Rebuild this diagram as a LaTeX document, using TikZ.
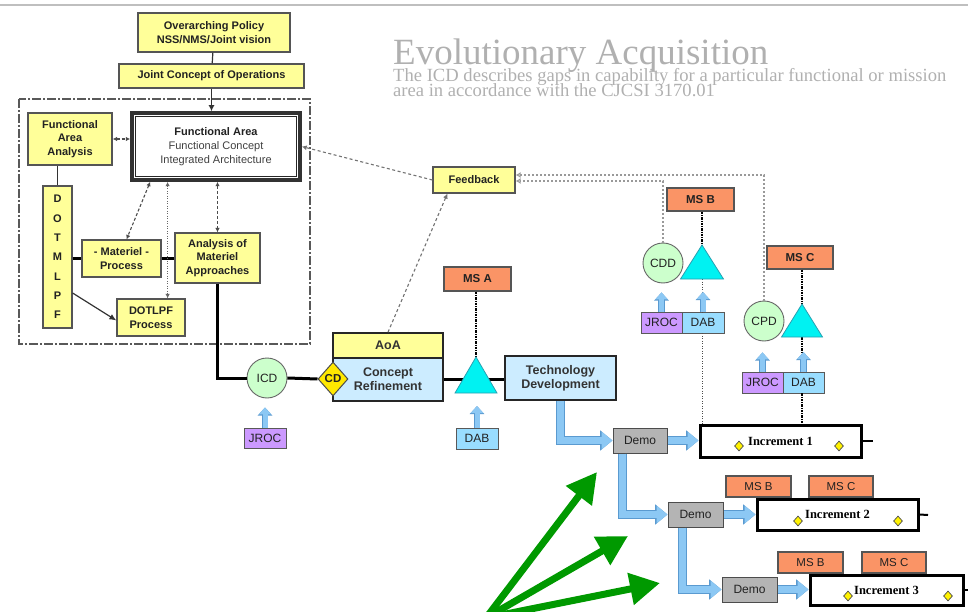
\documentclass[tikz,border=0pt]{standalone}
\usepackage{fontspec}
\setmainfont{Liberation Sans}
\newfontfamily\timesf{Liberation Serif}
\usetikzlibrary{shapes.geometric,arrows.meta,calc}

\definecolor{boxyellow}{HTML}{FFFF99}
\definecolor{msorange}{HTML}{FA9466}
\definecolor{tricyan}{HTML}{00F2F2}
\definecolor{triedge}{HTML}{2A9FB0}
\definecolor{circgreen}{HTML}{CCFFCC}
\definecolor{jrocpurple}{HTML}{CC99FF}
\definecolor{dabblue}{HTML}{99DDFF}
\definecolor{phaseblue}{HTML}{CCECFF}
\definecolor{demogray}{HTML}{B4B4B4}
\definecolor{arrowblue}{HTML}{8CC8F4}
\definecolor{arrowedge}{HTML}{5A9AD0}
\definecolor{titlegray}{HTML}{B0B0B0}
\definecolor{pointgreen}{HTML}{009900}
\definecolor{edgegray}{HTML}{555555}
\definecolor{cdyellow}{HTML}{FFE800}
\definecolor{txtdark}{HTML}{222222}

\newcommand\fsz[1]{\fontsize{#1}{#1}\selectfont}

\tikzset{
  ybox/.style={draw=edgegray, line width=1.2pt, fill=boxyellow, align=center,
    inner sep=0pt, text=txtdark, font=\fontsize{11}{13.5}\selectfont\bfseries},
  fabox/.style={draw=black!80, line width=3.5pt, fill=white, align=center,
    inner sep=0pt, text=black!75, font=\fontsize{11}{14}\selectfont},
  msbox/.style={draw=edgegray, line width=1.1pt, fill=msorange, inner sep=0pt,
    text=txtdark, font=\fsz{11.5}\bfseries},
  phase/.style={draw=black!85, line width=2pt, fill=phaseblue, align=center,
    inner sep=0pt, text=black!80, font=\fontsize{12.5}{14}\selectfont\bfseries},
  circ/.style={circle, draw=gray!80!black, line width=0.9pt, fill=circgreen,
    minimum size=40pt, inner sep=0pt, text=txtdark, font=\fsz{12}},
  jrocbox/.style={draw=gray!70!black, line width=0.9pt, fill=jrocpurple,
    inner sep=0pt, minimum height=21pt, text=txtdark, font=\fsz{12}},
  dabbox/.style={draw=gray!70!black, line width=0.9pt, fill=dabblue,
    inner sep=0pt, minimum height=21pt, text=txtdark, font=\fsz{12}},
  demobox/.style={draw=gray!60!black, line width=1pt, fill=demogray,
    inner sep=0pt, minimum width=55pt, minimum height=25pt, text=txtdark, font=\fsz{12}},
  incbox/.style={draw=black, line width=3pt, fill=white, inner sep=0pt,
    text=black, font=\timesf\bfseries\fsz{12.5}},
  ydia/.style={diamond, draw=gray!60!black, line width=0.7pt, fill=yellow,
    inner sep=0pt, minimum width=9pt, minimum height=10pt},
  tri/.style={draw=triedge, line width=0.8pt, fill=tricyan},
  flow/.style={draw=black, line width=3pt},
  thinline/.style={draw=black!80, line width=1.2pt},
  dbl/.style={draw=black!70, line width=1.1pt, dash pattern=on 3pt off 2pt,
    {Latex[length=4.5pt,width=4.5pt]}-{Latex[length=4.5pt,width=4.5pt]}},
  dotl/.style={draw=black!60, line width=1pt, dash pattern=on 1pt off 1.5pt,
    {Latex[length=4.5pt,width=4.5pt]}-{Latex[length=4.5pt,width=4.5pt]}},
  fbdash/.style={draw=black!55, line width=1.1pt, dash pattern=on 3pt off 2.5pt,
    -{Latex[length=5pt,width=5pt]}},
  fbdot/.style={draw=black!40, line width=1.6pt, dash pattern=on 2pt off 2pt,
    -{Latex[open,length=5pt,width=6pt]}},
  mslink/.style={draw=black, line width=1.6pt, dash pattern=on 2.5pt off 1pt on 1pt off 1pt},
  msdot/.style={draw=black!70, line width=1pt, dash pattern=on 1pt off 1.5pt},
  blk/.style={draw=arrowblue, line width=5pt, -{Triangle[length=7pt,width=12pt]},
    preaction={draw=arrowedge, line width=6.4pt, -{Triangle[length=8.2pt,width=14.4pt]}}},
  bigblk/.style={draw=arrowblue, line width=7pt, line join=miter,
    -{Triangle[length=11pt,width=17pt]},
    preaction={draw=arrowedge, line width=8.4pt, line join=miter,
      -{Triangle[length=12.4pt,width=19.6pt]}}},
  greenarr/.style={draw=pointgreen, line width=7pt, -{Triangle[length=30pt,width=31pt]}},
}

\begin{document}
\begin{tikzpicture}[x=1pt,y=-1pt]
\useasboundingbox (0,0) rectangle (968,612);
\clip (0,0) rectangle (968,612);

% header rule
\draw[black!25, line width=2pt] (0,5) -- (968,5);

% title block
\node[anchor=base west, inner sep=0pt, text=titlegray, font=\timesf\fsz{37}] (title) at (393,65) {Evolutionary Acquisition};
\node[anchor=base west, inner sep=0pt, text=titlegray, font=\timesf\fsz{18.6}] (sub1) at (393,82) {The ICD describes gaps in capability for a particular functional or mission};
\node[anchor=base west, inner sep=0pt, text=titlegray, font=\timesf\fsz{18.6}] (sub2) at (393,96.5) {area in accordance with the CJCSI 3170.01};

% ---------- capability definition cluster ----------
\node[ybox, minimum width=152pt, minimum height=39pt] (ovp) at (214,32.5) {Overarching Policy\\NSS/NMS/Joint vision};
\node[ybox, minimum width=185pt, minimum height=24pt] (jco) at (211.5,76) {Joint Concept of Operations};
\draw[draw=black!65, line width=1.2pt, dash pattern=on 9pt off 2pt on 2pt off 2pt] (19,99) rectangle (310,344);

\node[fabox, minimum width=168pt, minimum height=67pt] (fa) at (216,146.5)
  {\textbf{\color{txtdark}Functional Area}\\Functional Concept\\Integrated Architecture};
\draw[black!85, line width=1.3pt] ($(fa.north west)+(5.5,5.5)$) rectangle ($(fa.south east)+(-5.5,-5.5)$);

\node[ybox, minimum width=84pt, minimum height=52pt] (faa) at (70,139) {Functional\\Area\\Analysis};
\node[ybox, minimum width=29pt, minimum height=142pt, font=\fontsize{11}{19.3}\selectfont\bfseries] (dot) at (57.5,257) {D\\O\\T\\M\\L\\P\\F};
\node[ybox, minimum width=79pt, minimum height=37pt] (mat) at (121.5,258.5) {- Materiel -\\Process};
\node[ybox, minimum width=85pt, minimum height=50pt] (ama) at (217.5,258) {Analysis of\\Materiel\\Approaches};
\node[ybox, minimum width=68pt, minimum height=37pt] (dotlpf) at (151,317.5) {DOTLPF\\Process};

\draw[thinline] (ovp) -- (jco);
\draw[thinline, -{Latex[length=6pt,width=6pt]}] (jco.south) -- (jco.south |- fa.north);
\draw[thinline] (dot.north) -- (dot.north |- faa.south);
\draw[dbl] (faa.east) -- (faa.east -| fa.west);
\draw[flow] (mat.west -| dot.east) -- (mat.west);
\draw[flow] (mat.east) -- (mat.east -| ama.west);
\draw[thinline, -{Latex[length=7pt,width=6pt]}] ($(dot.east)+(0,36)$) -- ($(dotlpf.west)+(0,3)$);
\draw[dbl] ($(fa.south west)+(20,0)$) -- ($(mat.north)+(5,0)$);
\coordinate (dtop) at ($(dotlpf.north east)+(-18,0)$);
\draw[dotl] (dtop |- fa.south) -- (dtop);
\draw[dbl] (ama.north |- fa.south) -- (ama.north);

% ---------- milestone A chain ----------
\node[circ] (icd) at (267,378) {ICD};
\node[phase, minimum width=110pt, minimum height=25pt, fill=boxyellow, line width=1.6pt] (aoa) at (388,345.5) {AoA};
\node[phase, minimum width=110pt, minimum height=43pt, text width=100pt] (cr) at (388,379.5) {Concept\\Refinement};
\node[diamond, draw=black!70, line width=1pt, fill=cdyellow, inner sep=0pt,
  minimum width=30pt, minimum height=34pt, text=txtdark, font=\fsz{11.5}\bfseries] (cd) at (333,379) {CD};
\node[msbox, minimum width=67pt, minimum height=24pt] (msa) at (477.5,279) {MS A};
\node[jrocbox, minimum width=42pt, minimum height=20pt] (jroca) at (265,438) {JROC};
\node[dabbox, minimum width=42pt] (daba) at (477,438.5) {DAB};
\node[phase, minimum width=111pt, minimum height=44pt] (td) at (560.5,378) {Technology\\Development};

\draw[flow] (ama.south) |- (icd.west);
\draw[flow] (icd.east) -- (cd.west);
\draw[flow] (cr.east) -- (cr.east -| td.west);

\coordinate (ta) at (476,357);
\coordinate (tab) at (476,393);
\draw[mslink] (ta |- msa.south) -- (ta);
\draw[tri] (ta) -- (497,393) -- (455,393) -- cycle;

\draw[blk, shorten >=9pt] (jroca.north) -- (jroca.north |- icd.south);
\draw[blk, shorten >=13pt] (daba.north) -- (daba.north |- tab);

% ---------- feedback ----------
\node[ybox, minimum width=82pt, minimum height=26pt] (fb) at (474,180) {Feedback};
\draw[fbdash] (aoa.north) -- ($(fb.south west)+(15,0)$);
\draw[fbdash] (fb.west) -- (fa.east);

% ---------- milestone B ----------
\node[msbox, minimum width=67pt, minimum height=23pt] (msb) at (700.5,199.5) {MS B};
\node[circ] (cdd) at (663,263) {CDD};
\node[jrocbox, minimum width=41pt] (jrocb) at (661.5,322.5) {JROC};
\node[dabbox, minimum width=42pt] (dabb) at (703,322.5) {DAB};
\coordinate (tb) at (702,245);
\coordinate (tbb) at (702,279);
\draw[mslink] (tb |- msb.south) -- (tb);
\draw[msdot] (tbb) -- (tbb |- dabb.north);
\draw[tri] (tb) -- (723.5,279) -- (680.5,279) -- cycle;

% ---------- milestone C ----------
\node[msbox, minimum width=66pt, minimum height=23pt] (msc) at (800,257.5) {MS C};
\node[circ] (cpd) at (764,321) {CPD};
\node[jrocbox, minimum width=41pt] (jrocc) at (762.5,382.5) {JROC};
\node[dabbox, minimum width=41pt] (dabc) at (803.5,382.5) {DAB};
\coordinate (tc) at (802,304);
\coordinate (tcb) at (802,337);
\draw[mslink] (tc |- msc.south) -- (tc);
\draw[mslink] (tcb) -- (tcb |- dabc.north);
\draw[tri] (tc) -- (822.5,337) -- (781.5,337) -- cycle;

\draw[fbdot] (cdd.north) |- ($(fb.east)+(0,1)$);
\draw[fbdot] (cpd.north) |- ($(fb.east)+(0,-5)$);

\draw[blk, shorten >=9pt] (jrocb.north) -- (jrocb.north |- cdd.south);
\draw[blk, shorten >=13pt] (dabb.north) -- (dabb.north |- tbb);
\draw[blk, shorten >=11pt] (jrocc.north) -- (jrocc.north |- cpd.south);
\draw[blk, shorten >=15pt] (dabc.north) -- (dabc.north |- tcb);

% ---------- increments ----------
\node[demobox, minimum width=54pt] (demo1) at (640,440.5) {Demo};
\node[incbox, minimum width=161pt, minimum height=32pt] (inc1) at (780.5,441) {Increment 1};
\node[demobox] (demo2) at (695.5,514.5) {Demo};
\node[incbox, minimum width=161pt, minimum height=31pt] (inc2) at (837.5,514.5) {Increment 2};
\node[demobox] (demo3) at (749.5,589.5) {Demo};
\node[incbox, minimum width=153pt, minimum height=30pt] (inc3) at (886.5,590) {Increment 3};

\node[msbox, minimum width=65pt, minimum height=21pt, font=\fsz{11.5}] (msb2) at (758.5,486.5) {MS B};
\node[msbox, minimum width=64pt, minimum height=21pt, font=\fsz{11.5}] (msc2) at (841,486.5) {MS C};
\node[msbox, minimum width=65pt, minimum height=21pt, font=\fsz{11.5}] (msb3) at (810.5,562.5) {MS B};
\node[msbox, minimum width=64pt, minimum height=21pt, font=\fsz{11.5}] (msc3) at (894,562.5) {MS C};

\node[ydia] (i1a) at (739,446) {};
\node[ydia] (i1b) at (839,446) {};
\node[ydia] (i2a) at (798,521) {};
\node[ydia] (i2b) at (898,521) {};
\node[ydia] (i3a) at (848,596) {};
\node[ydia] (i3b) at (948,596) {};

\coordinate (s1) at (873,441);
\coordinate (s2) at (928,515);
\coordinate (s3) at (975,590);
\draw[line width=2pt] (inc1.east) -- (s1);
\draw[line width=2pt] (inc2.east) -- (s2);
\draw[line width=2pt] (inc3.east) -- (s3);

\draw[msdot] (tbb |- dabb.south) -- (tbb |- inc1.north);
\draw[mslink] (tcb |- dabc.south) -- (tcb |- inc1.north);

\draw[bigblk] (td.south) |- (demo1.west);
\draw[bigblk] (demo1.east) -- (demo1.east -| inc1.west);
\coordinate (d1b) at ($(demo1.south west)+(10,0)$);
\draw[bigblk] (d1b) |- (demo2.west);
\draw[bigblk] (demo2.east) -- (demo2.east -| inc2.west);
\coordinate (d2b) at ($(demo2.south west)+(15,0)$);
\draw[bigblk] (d2b) |- (demo3.west);
\draw[bigblk] (demo3.east) -- (demo3.east -| inc3.west);

% ---------- pointers ----------
\coordinate (gorig) at (486,618);
\coordinate (g1) at (597,472);
\coordinate (g2) at (628,536);
\coordinate (g3) at (660,583);
\draw[greenarr] (gorig) -- (g1);
\draw[greenarr] (gorig) -- (g2);
\draw[greenarr] (gorig) -- (g3);
\end{tikzpicture}
\end{document}
